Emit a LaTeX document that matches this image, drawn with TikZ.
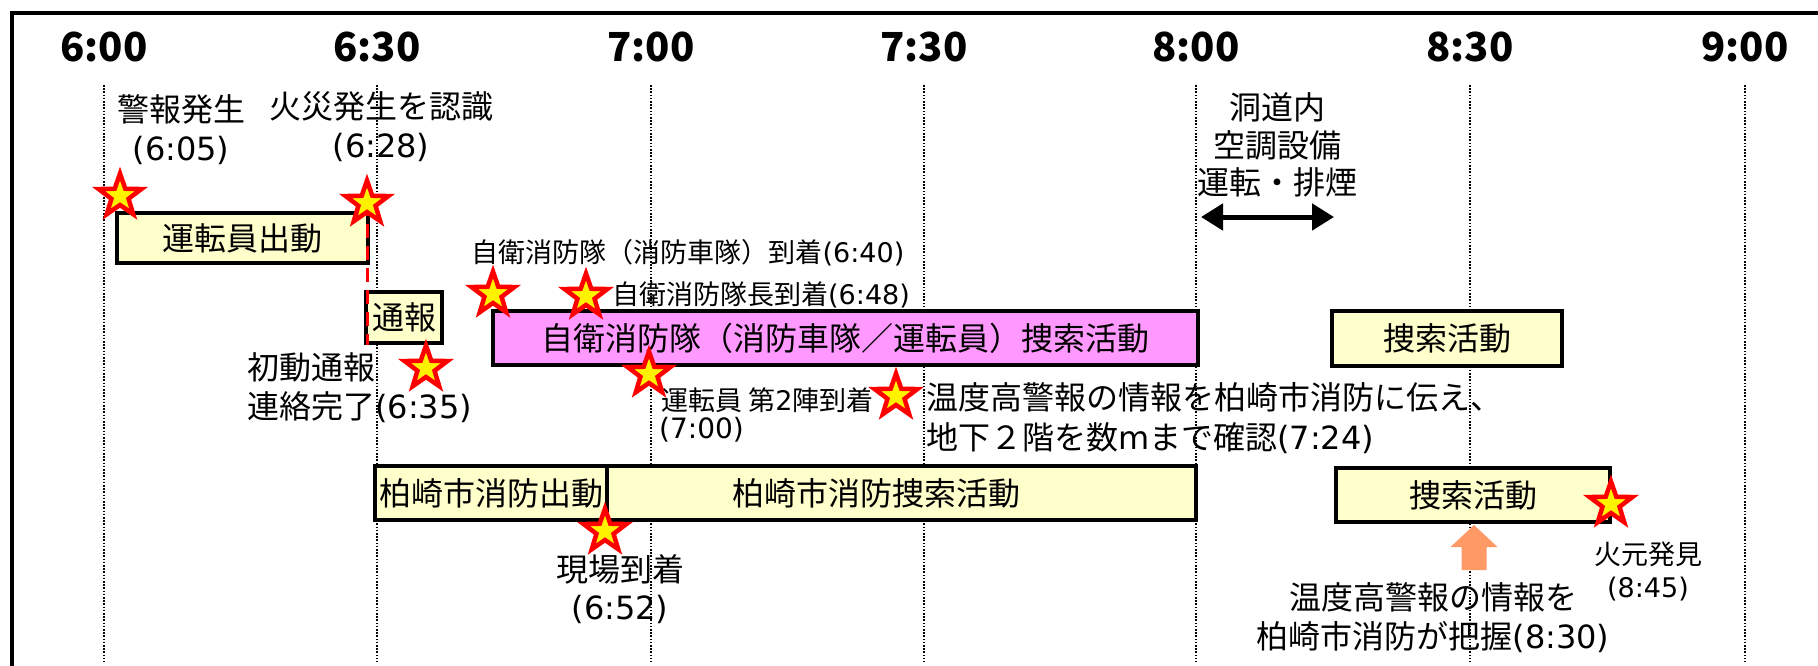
\documentclass[tikz,border=0pt]{standalone}
\usepackage{fontspec}
\setmainfont{Noto Sans CJK JP}
\newfontfamily\latfont{DejaVu Sans}
\newcommand{\latn}[1]{{\latfont #1}}
\usetikzlibrary{shapes.geometric,arrows.meta}
\definecolor{paleyel}{HTML}{FFFFCC}
\definecolor{pinkbox}{HTML}{FF99FF}
\definecolor{orangearr}{HTML}{FF9966}
\tikzset{
  timelbl/.style={font=\fontsize{40}{44}\selectfont\bfseries, inner sep=0},
  grid line/.style={line width=1.5pt, dash pattern=on 1.6pt off 1.6pt},
  lbl/.style={font=\fontsize{32}{39}\selectfont, inner sep=0},
  smalllbl/.style={font=\fontsize{27}{33}\selectfont, inner sep=0},
  boxy/.style={draw=black, line width=4pt, fill=paleyel, inner sep=0, font=\fontsize{32}{39}\selectfont},
  boxp/.style={draw=black, line width=4pt, fill=pinkbox, inner sep=0, font=\fontsize{32}{39}\selectfont},
  evstar/.style={star, star points=5, star point ratio=2.5, fill=yellow, draw=red, line width=4.5pt, minimum size=45pt, inner sep=0},
  reddash/.style={draw=red, line width=3pt, dash pattern=on 14pt off 8pt},
  dblarrow/.style={line width=5pt, {Triangle[length=22pt,width=26pt]}-{Triangle[length=22pt,width=26pt]}}
}
\begin{document}
\begin{tikzpicture}[x=1pt,y=-1pt]
\useasboundingbox (0,0) rectangle (1818,665);
% frame
\draw[line width=3.5pt] (12,668) -- (12,13) -- (1822,13);
% time labels
\node[timelbl] (t600) at (104,47) {6:00};
\node[timelbl] (t630) at (377,47) {6:30};
\node[timelbl] (t700) at (651,47) {7:00};
\node[timelbl] (t730) at (924,47) {7:30};
\node[timelbl] (t800) at (1196,47) {8:00};
\node[timelbl] (t830) at (1470,47) {8:30};
\node[timelbl] (t900) at (1745,47) {9:00};
% grid lines
\foreach \xx/\nm in {104/a,377/b,651/c,924/d,1196/e,1470/f,1745/g}{
  \coordinate (gt\nm) at (\xx,85);
  \coordinate (gb\nm) at (\xx,662);
  \draw[grid line] (gt\nm) -- (gb\nm);
}
% labels top
\node[lbl, align=center] (lbA) at (181,130) {警報発生\\\latn{(6:05)}};
\node[lbl, align=center] (lbB) at (381,127) {火災発生を認識\\\latn{(6:28)}};
\node[lbl, align=center, font=\fontsize{32}{37.5}\selectfont] (lbI) at (1277,145) {洞道内\\空調設備\\運転・排煙};
\coordinate (arL) at (1201,217);
\coordinate (arR) at (1334,217);
\draw[dblarrow] (arL) -- (arR);
% boxes
\node[boxy, minimum width=251pt, minimum height=50pt] (bA) at (242.5,238) {運転員出動};
\node[boxy, minimum width=76pt, minimum height=51pt] (bB) at (404,317.5) {通報};
\node[boxp, minimum width=705pt, minimum height=54pt] (bC) at (845.5,338) {自衛消防隊（消防車隊／運転員）捜索活動};
\node[boxy, minimum width=232pt, minimum height=54pt] (bD) at (491,493) {柏崎市消防出動};
\node[boxy, minimum width=589pt, minimum height=54pt] (bE) at (901.5,493) {};
\node[lbl] (bEt) at (876,493) {柏崎市消防捜索活動};
\node[boxy, minimum width=230pt, minimum height=55pt] (bF) at (1447,338.5) {捜索活動};
\node[boxy, minimum width=274pt, minimum height=54pt] (bG) at (1473,495) {捜索活動};
% red dashed line
\coordinate (rdTop) at (367,202);
\coordinate (rdBot) at (367,345);
\draw[reddash] (rdTop) -- (rdBot);
% labels
\node[lbl, align=left, anchor=west] (lbC) at (247,387.5) {初動通報\\連絡完了\latn{(6:35)}};
\node[smalllbl] (lbD) at (688,253) {自衛消防隊（消防車隊）到着\latn{(6:40)}};
\node[smalllbl, anchor=west] (lbE) at (612,295) {自衛消防隊長到着\latn{(6:48)}};
\node[smalllbl, anchor=west] (lbF) at (661,400) {運転員 第\latn{2}陣到着};
\node[lbl, anchor=west, font=\fontsize{28}{35}\selectfont] (lbF2) at (659,430) {\latn{(7:00)}};
\node[lbl, align=left, anchor=west, font=\fontsize{32}{40}\selectfont] (lbG) at (926,418) {温度高警報の情報を柏崎市消防に伝え、\\地下２階を数\latn{m}まで確認\latn{(7:24)}};
\node[lbl, align=center, font=\fontsize{32}{38}\selectfont] (lbH) at (620,589) {現場到着\\\latn{(6:52)}};
\node[smalllbl, align=center] (lbJ) at (1648,571) {火元発見\\\latn{(8:45)}};
\node[lbl, align=center] (lbK) at (1433,617.5) {温度高警報の情報を\\柏崎市消防が把握\latn{(8:30)}};
% orange arrow
\fill[orangearr] (1474,525) -- (1497.5,547) -- (1486.5,547) -- (1486.5,570) -- (1461.5,570) -- (1461.5,547) -- (1450.5,547) -- cycle;
% stars
\node[evstar] (s1) at (120,196) {};
\node[evstar] (s2) at (367,203) {};
\node[evstar] (s3) at (426,368) {};
\node[evstar] (s4) at (493,294) {};
\node[evstar] (s5) at (586,296) {};
\node[evstar] (s6) at (649,374) {};
\node[evstar] (s7) at (896,396) {};
\node[evstar] (s8) at (605,531) {};
\node[evstar] (s9) at (1611,504) {};
\end{tikzpicture}
\end{document}
